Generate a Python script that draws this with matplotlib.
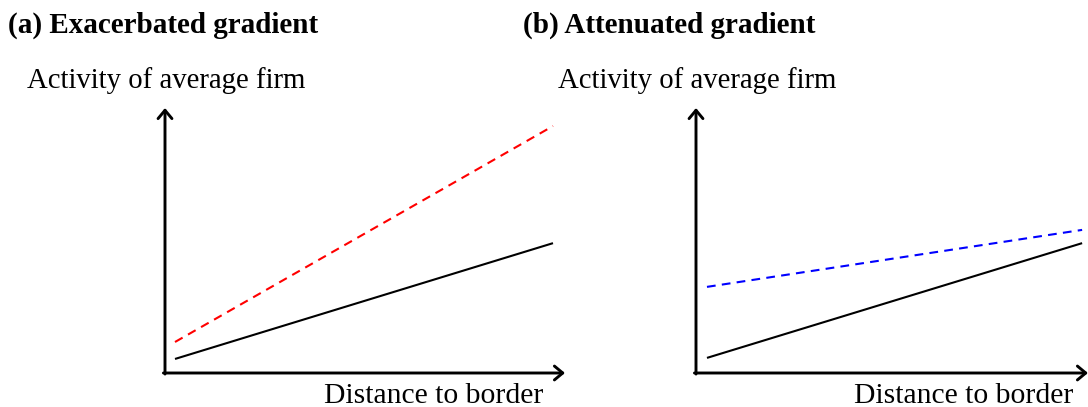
import matplotlib
matplotlib.use("Agg")
import matplotlib.pyplot as plt

W, H = 1088, 407
plt.rcParams['font.family'] = ['Liberation Serif', 'DejaVu Serif']

# data (normalised units: axis runs 0..1)
x_line_a = [0.025, 0.97]
base_a = [0.053, 0.49]
exacerbated = [0.117, 0.932]
x_line_b = [0.028, 0.985]
base_b = [0.057, 0.49]
attenuated = [0.325, 0.54]

titles = ["(a) Exacerbated gradient", "(b) Attenuated gradient"]
ylabel = "Activity of average firm"
xlabel = "Distance to border"

fig = plt.figure(figsize=(W / 100, H / 100), dpi=100)

def px_axes(left, bottom_y, width, height):
    return fig.add_axes([left / W, (H - bottom_y) / H, width / W, height / H])

def draw_frame(ax):
    ax.set_xlim(0, 1)
    ax.set_ylim(0, 1)
    ax.axis('off')
    ap = dict(arrowstyle='->,head_length=0.6,head_width=0.5', lw=2.1,
              color='black', shrinkA=0, shrinkB=0, mutation_scale=10)
    ax.annotate('', xy=(0, 1), xytext=(0, -0.004), arrowprops=ap,
                annotation_clip=False)
    ax.annotate('', xy=(1, 0), xytext=(-0.004, 0), arrowprops=ap,
                annotation_clip=False)

ax1 = px_axes(165, 373, 400, 265)
draw_frame(ax1)
ax1.plot(x_line_a, base_a, color='black', lw=1.5, solid_capstyle='butt')
ax1.plot(x_line_a, exacerbated, color='red', lw=1.5, dashes=(4.2, 3))

ax2 = px_axes(696, 373, 392, 265)
draw_frame(ax2)
ax2.plot(x_line_b, base_b, color='black', lw=1.5, solid_capstyle='butt')
ax2.plot(x_line_b, attenuated, color='blue', lw=1.5, dashes=(4.2, 3))

def ftext(x, y, s, **kw):
    fig.text(x / W, 1 - y / H, s, **kw)

ftext(8, 33, titles[0], fontsize=21, fontweight='bold', va='baseline', ha='left')
ftext(523, 33, titles[1], fontsize=21, fontweight='bold', va='baseline', ha='left')
ftext(27, 88, ylabel, fontsize=20.7, va='baseline', ha='left')
ftext(558, 88, ylabel, fontsize=20.7, va='baseline', ha='left')
ftext(324, 403, xlabel, fontsize=21.3, va='baseline', ha='left')
ftext(854, 403, xlabel, fontsize=21.3, va='baseline', ha='left')

fig.savefig("out.png", dpi=100)
